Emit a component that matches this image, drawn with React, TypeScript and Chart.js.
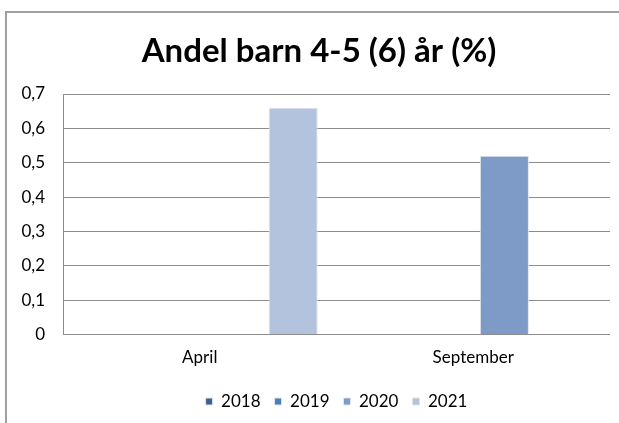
import React, { useEffect, useRef } from "react";
import { Chart, registerables } from "chart.js";

Chart.register(...registerables);

const categories = ["April", "September"];
const seriesNames = ["2018", "2019", "2020", "2021"];
const values2018: (number | null)[] = [null, null];
const values2019: (number | null)[] = [null, null];
const values2020: (number | null)[] = [null, 0.52];
const values2021: (number | null)[] = [0.66, null];
const seriesColors = ["#3A6192", "#4A7EBB", "#7E9BC8", "#B3C2DD"];
const titleText = "Andel barn 4-5 (6) år (%)";
const FONT = "Lato, 'Open Sans', sans-serif";
const TITLE_SIZE = 33;
const TITLE_PAD_TOP = 32;
const TITLE_CENTER_X = 319;

const shiftedTitle = {
  id: "shiftedTitle",
  afterDraw(chart: any) {
    const tb = chart.titleBlock;
    if (!tb) return;
    const ctx = chart.ctx;
    ctx.save();
    ctx.font = `bold ${TITLE_SIZE}px ${FONT}`;
    ctx.fillStyle = "#000";
    ctx.textAlign = "center";
    ctx.textBaseline = "middle";
    ctx.fillText(titleText, TITLE_CENTER_X, tb.top + TITLE_PAD_TOP + (TITLE_SIZE * 1.2) / 2);
    ctx.restore();
  },
};

export default function App() {
  const ref = useRef<HTMLCanvasElement | null>(null);
  useEffect(() => {
    if (!ref.current) return;
    const allValues = [values2018, values2019, values2020, values2021];
    const chart = new Chart(ref.current, {
      type: "bar",
      data: {
        labels: categories,
        datasets: seriesNames.map((name, i) => ({
          label: name,
          data: allValues[i],
          backgroundColor: seriesColors[i],
          borderColor: "rgba(225,228,234,1)",
          borderWidth: 1,
          categoryPercentage: 0.911,
          barPercentage: 0.787,
        })),
      },
      plugins: [shiftedTitle],
      options: {
        responsive: false,
        animation: false,
        maintainAspectRatio: false,
        layout: { padding: { left: 0, right: 9, top: 0, bottom: 3 } },
        plugins: {
          title: {
            display: true,
            text: titleText,
            color: "rgba(0,0,0,0)",
            font: { family: FONT, size: TITLE_SIZE, weight: "bold" },
            padding: { top: TITLE_PAD_TOP, bottom: 22.4 },
          },
          legend: {
            display: true,
            position: "bottom",
            fullSize: false,
            labels: {
              color: "#000",
              font: { family: FONT, size: 17 },
              boxWidth: 7,
              boxHeight: 7,
              padding: 14,
            },
          },
          tooltip: { enabled: false },
        },
        scales: {
          x: {
            grid: { display: false, drawTicks: false },
            border: { display: false },
            afterFit: (scale: any) => {
              scale.height = 44.5;
            },
            ticks: { color: "#000", font: { family: FONT, size: 17 }, padding: 13.3 },
          },
          y: {
            min: 0,
            max: 0.7,
            afterFit: (scale: any) => {
              scale.width = 63;
            },
            ticks: {
              stepSize: 0.1,
              color: "#000",
              padding: 18,
              font: { family: FONT, size: 17 },
              callback: (v: any) => {
                const n = Number(v);
                return n === 0 ? "0" : n.toFixed(1).replace(".", ",");
              },
            },
            grid: { color: "#8c8c8c", lineWidth: 1, drawTicks: false },
            border: { display: true, color: "#8c8c8c", width: 1 },
          },
        },
      },
    });
    return () => chart.destroy();
  }, []);
  return (
    <div style={{ position: "absolute", left: 0, top: 0, width: 619, height: 423, overflow: "hidden", background: "#fff" }}>
      <div
        style={{
          position: "absolute",
          left: 5,
          top: 11,
          width: 1000,
          height: 1000,
          borderLeft: "2px solid #a0a0a0",
          borderTop: "2px solid #a0a0a0",
        }}
      />
      <canvas ref={ref} width={619} height={423} style={{ position: "absolute", left: 0, top: 0, width: 619, height: 423 }} />
    </div>
  );
}
